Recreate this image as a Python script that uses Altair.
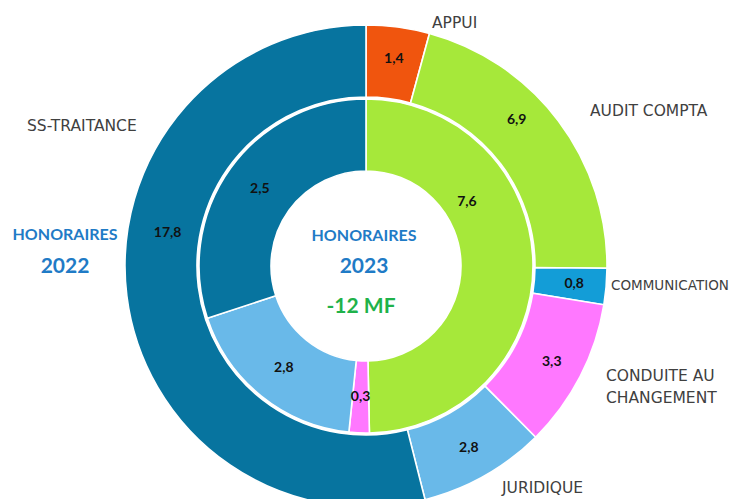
import altair as alt
import pandas as pd

# ---- data ----
outer_cats = ["APPUI", "AUDIT COMPTA", "COMMUNICATION", "CONDUITE AU CHANGEMENT", "JURIDIQUE", "SS-TRAITANCE"]
outer_values = [1.4, 6.9, 0.8, 3.3, 2.8, 17.8]
outer_labels = ["1,4", "6,9", "0,8", "3,3", "2,8", "17,8"]

inner_cats = ["AUDIT COMPTA", "CONDUITE AU CHANGEMENT", "JURIDIQUE", "SS-TRAITANCE"]
inner_values = [7.6, 0.3, 2.8, 4.6]
inner_labels = ["7,6", "0,3", "2,8", "2,5"]

color_cats = ["APPUI", "AUDIT COMPTA", "COMMUNICATION", "CONDUITE AU CHANGEMENT", "JURIDIQUE", "SS-TRAITANCE"]
color_range = ["#F0550E", "#A6E83A", "#139DD7", "#FF78FF", "#69B9E9", "#07749F"]

title_2022 = ["HONORAIRES", "2022"]
title_2023 = ["HONORAIRES", "2023"]
delta_text = "-12 MF"

FONT = "Lato"
NAME_FONT = "DejaVu Sans"
CX, CY = 358, 258  # arc centre in chart coordinates

outer_df = pd.DataFrame({"cat": outer_cats, "value": outer_values,
                         "label": outer_labels, "idx": range(len(outer_cats))})
inner_df = pd.DataFrame({"cat": inner_cats, "value": inner_values,
                         "label": inner_labels, "idx": range(len(inner_cats))})

color = alt.Color("cat:N", scale=alt.Scale(domain=color_cats, range=color_range), legend=None)
theta = alt.Theta("value:Q", stack="normalize")
order = alt.Order("idx:Q")


def ring(df, r_out, r_in):
    return alt.Chart(df).mark_arc(radius=r_out, radius2=r_in, stroke="white", strokeWidth=1.6).encode(
        theta=theta, order=order, color=color, x=alt.value(CX), y=alt.value(CY))


def ring_text(df, r, only=None, skip=(), dx=0, dy=0):
    if only is not None:
        expr = f"datum.cat == '{only}' ? datum.label : ''"
    else:
        cond = " || ".join(f"datum.cat == '{c}'" for c in skip) or "false"
        expr = f"({cond}) ? '' : datum.label"
    return alt.Chart(df).transform_calculate(t=expr).mark_text(
        radius=r, dx=dx, dy=dy, fontSize=14, fontWeight="bold", font=FONT, color="#111111"
    ).encode(theta=theta, order=order, text="t:N", x=alt.value(CX), y=alt.value(CY))


def note(text, x, y, size, col, weight="normal", align="center", font=FONT):
    return alt.Chart(pd.DataFrame({"t": [text]})).mark_text(
        align=align, baseline="middle", fontSize=size, font=font, fontWeight=weight, color=col
    ).encode(x=alt.value(x - 8), y=alt.value(y - 8), text="t:N")


NAME_COL = "#404040"
layers = [
    ring(outer_df, 241, 169),
    ring(inner_df, 167, 95),
    ring_text(outer_df, 209, skip=("AUDIT COMPTA", "SS-TRAITANCE")),
    ring_text(outer_df, 209, only="AUDIT COMPTA", dx=-16, dy=-20),
    ring_text(outer_df, 209, only="SS-TRAITANCE", dx=9, dy=-59),
    ring_text(inner_df, 131, skip=("AUDIT COMPTA",)),
    ring_text(inner_df, 131, only="AUDIT COMPTA", dx=-30, dy=-63),
    note(outer_cats[0], 432, 23, 15.5, NAME_COL, align="left", font=NAME_FONT),
    note(outer_cats[1], 590, 111, 15.5, NAME_COL, align="left", font=NAME_FONT),
    note(outer_cats[2], 611, 286, 13.5, NAME_COL, align="left", font=NAME_FONT),
    note("CONDUITE AU", 606, 376, 15.5, NAME_COL, align="left", font=NAME_FONT),
    note("CHANGEMENT", 606, 398, 15.5, NAME_COL, align="left", font=NAME_FONT),
    note(outer_cats[4], 502, 488, 15.5, NAME_COL, align="left", font=NAME_FONT),
    note(outer_cats[5], 27, 126, 15.5, NAME_COL, align="left", font=NAME_FONT),
    note(title_2022[0], 65, 235, 16, "#1F7BC6", weight="bold"),
    note(title_2022[1], 65, 267, 21, "#1F7BC6", weight="bold"),
    note(title_2023[0], 364, 236, 16, "#1F7BC6", weight="bold"),
    note(title_2023[1], 364, 267, 21, "#1F7BC6", weight="bold"),
    note(delta_text, 361, 307, 21, "#1FB24A", weight="bold"),
]

chart = alt.layer(*layers).properties(
    width=722, height=491, padding=0,
    autosize=alt.AutoSizeParams(type="none"),
).configure_view(stroke=None)

chart.save("out.html", embed_options={"renderer": "svg", "actions": False})
